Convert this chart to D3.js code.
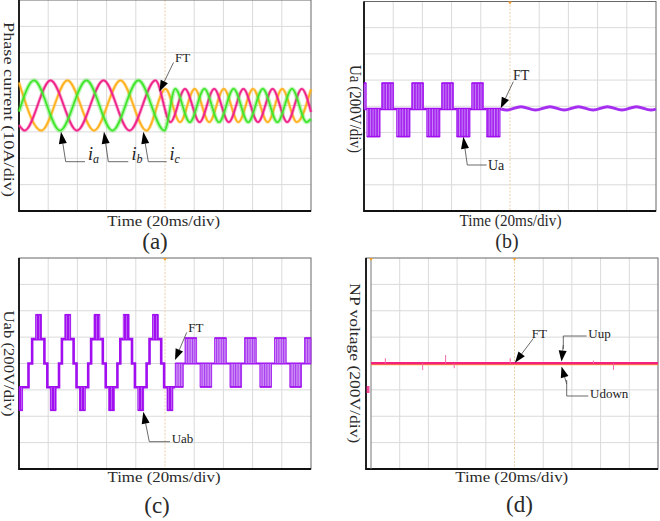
<!DOCTYPE html>
<html>
<head>
<meta charset="utf-8">
<script src="https://cdn.jsdelivr.net/npm/d3@7"></script>
<style>
body { margin: 0; background: #fff; }
svg { display: block; }
</style>
</head>
<body>
<svg id="fig" width="660" height="521"></svg>
<script>
// scope traces, read off the four screen shots
// time in ms (20ms/div, 10 div), current in A (10A/div), voltage in V (200V/div)
var gridTime = [20, 40, 60, 80, 100, 120, 140, 160, 180];
var gridAmp = [-30, -20, -10, 0, 10, 20, 30];
var gridVolt = [-600, -400, -200, 0, 200, 400, 600];

// (a) phase currents: peaks and troughs [t, A]
var iaPts = [[0,-2.3],[10.3,9.5],[28.1,-9.5],[46.2,9.5],[64,-9.5],[81.8,9.5],[99.6,-9.5],[107,6.3],[117,-6.3],[127,6.3],[137,-6.3],[147,6.3],[157,-6.3],[167,6.3],[177,-6.3],[187,6.3],[197,-6.3],[200,-5.1]];
var ibPts = [[0,-7.4],[3.8,-9.5],[21.6,9.5],[39.7,-9.5],[57.9,9.5],[75.7,-9.5],[93.5,9.5],[103.7,-6.3],[113.7,6.3],[123.7,-6.3],[133.7,6.3],[143.7,-6.3],[153.7,6.3],[163.7,-6.3],[173.7,6.3],[183.7,-6.3],[193.7,6.3],[200,-2.5]];
var icPts = [[0,8.7],[15.3,-9.5],[33.2,9.5],[51.4,-9.5],[69.5,9.5],[87.3,-9.5],[100.3,6.3],[110.3,-6.3],[120.3,6.3],[130.3,-6.3],[140.3,6.3],[150.3,-6.3],[160.3,6.3],[170.3,-6.3],[180.3,6.3],[190.3,-6.3],[200,6.2]];

// (b) Ua: [t0, t1, base level, switched level] in V, then ripple after FT
var uaSegs = [[0,1.5,-21,177],[1.5,2,-21,-21],[2,11,-21,-232],[11,12.1,-21,-21],[12.1,20.3,-21,177],[20.3,22.4,-21,-21],
  [22.4,31.5,-21,-232],[31.5,32.7,-21,-21],[32.7,40.8,-21,177],[40.8,43,-21,-21],[43,52,-21,-232],[52,53.2,-21,-21],
  [53.2,61.3,-21,177],[61.3,63.5,-21,-21],[63.5,72.6,-21,-232],[72.6,73.8,-21,-21],[73.8,81.8,-21,177],[81.8,84,-21,-21],
  [84,93.2,-21,-232],[93.2,94,-21,-21]];
var uaRipple = [[94,-21],[97.5,-29],[107.5,-3],[117.5,-29],[127.4,-3],[137.2,-29],[146.9,-3],[156.9,-29],[166.8,-3],[176.7,-29],[186.6,-3],[196.5,-29],[200,-22]];

// (c) Uab before FT (five levels) and after FT (three levels)
var uabPre = [[0,2.5,-180,-355],[2.5,6.5,-180,-180],[6.5,9,0,0],[9,11.4,185,185],
  [11.4,15.4,185,370],[15.4,17.4,185,185],[17.4,19.4,0,0],[19.4,21.4,-180,-180],[21.4,25.4,-180,-355],[25.4,27.4,-180,-180],[27.4,29.4,0,0],[29.4,31.4,185,185],
  [31.4,35.4,185,370],[35.4,37.4,185,185],[37.4,39.4,0,0],[39.4,41.4,-180,-180],[41.4,45.4,-180,-355],[45.4,47.4,-180,-180],[47.4,49.4,0,0],[49.4,51.4,185,185],
  [51.4,55.4,185,370],[55.4,57.4,185,185],[57.4,59.4,0,0],[59.4,61.4,-180,-180],[61.4,65.4,-180,-355],[65.4,67.4,-180,-180],[67.4,69.4,0,0],[69.4,71.4,185,185],
  [71.4,75.4,185,370],[75.4,77.4,185,185],[77.4,79.4,0,0],[79.4,81.4,-180,-180],[81.4,85.4,-180,-355],[85.4,87.4,-180,-180],[87.4,89.4,0,0],[89.4,91.4,185,185],
  [91.4,95.4,185,370],[95.4,97.4,185,185],[97.4,99.4,0,0],[99.4,101.4,-180,-180],[101.4,105.4,-180,-355],[105.4,107,-180,-180]];
var uabPost = [[107,112.5,0,-178],[112.5,113.7,0,0],[113.7,121.7,0,193],[121.7,124,0,0],[124,132,0,-178],[132,134,0,0],
  [134,142,0,193],[142,144.5,0,0],[144.5,152.5,0,-178],[152.5,154.5,0,0],[154.5,162.5,0,193],[162.5,165,0,0],
  [165,173,0,-178],[173,175,0,0],[175,183,0,193],[183,185.5,0,0],[185.5,193.5,0,-178],[193.5,195.5,0,0],[195.5,200,0,193]];

// (d) neutral point voltages and the few visible spikes
var npTime = [0, 200];
var uupLevel = [2, 2];
var udownLevel = [-2, -2];
var spikeT = [10, 36, 52, 58, 97, 155, 169];
var spikeV = [40, -50, 64, -36, 40, 22, -48];

var FONT = "Liberation Serif, 'Times New Roman', serif";
var PURPLE = "#a10ff0";

var svg = d3.select("#fig");
var defs = svg.append("defs");

// thin see-through switching lines laid over the solid PWM blocks
function stripes(id, w, color, lw, op) {
    defs.append("pattern").attr("id", id)
        .attr("patternUnits", "userSpaceOnUse")
        .attr("width", w).attr("height", 10)
        .append("rect").attr("x", 0).attr("y", 0)
        .attr("width", lw).attr("height", 10)
        .attr("fill", color).attr("fill-opacity", op);
}
stripes("strDark", 3, "#e2c2fa", 0.6, 0.7);
stripes("strB", 2.7, "#e0bdf8", 0.7, 0.8);
stripes("strLight", 2.4, "#a02cf0", 1, 0.9);

// panel scales
var pa = { x: d3.scaleLinear().domain([0, 200]).range([19, 311]), y: d3.scaleLinear().domain([-40, 40]).range([211, 0]) };
var pb = { x: d3.scaleLinear().domain([0, 200]).range([364, 656]), y: d3.scaleLinear().domain([-800, 800]).range([211, 1.5]) };
var pc = { x: d3.scaleLinear().domain([0, 200]).range([19, 311]), y: d3.scaleLinear().domain([-800, 800]).range([469, 258]) };
var pd = { x: d3.scaleLinear().domain([0, 200]).range([371, 658]), y: d3.scaleLinear().domain([-800, 800]).range([469, 258]) };

function frame(p, yTicks, leftX) {
    var g = svg.append("g");
    var x0 = p.x.range()[0], x1 = p.x.range()[1];
    var yb = p.y.range()[0], yt = p.y.range()[1];
    g.selectAll("line.h").data(yTicks).enter().append("line")
        .attr("x1", x0).attr("x2", x1)
        .attr("y1", function (d) { return p.y(d); }).attr("y2", function (d) { return p.y(d); })
        .attr("stroke", "#dadada").attr("stroke-width", 1);
    g.selectAll("line.v").data(gridTime).enter().append("line")
        .attr("x1", function (d) { return p.x(d); }).attr("x2", function (d) { return p.x(d); })
        .attr("y1", yt).attr("y2", yb)
        .attr("stroke", function (d) { return d === 100 ? "#ecd0a8" : "#dadada"; })
        .attr("stroke-dasharray", function (d) { return d === 100 ? "2,1.5" : null; })
        .attr("stroke-width", 1);
    var lx = leftX === undefined ? x0 : leftX;
    g.append("rect").attr("x", lx).attr("y", yt).attr("width", x1 - lx).attr("height", yb - yt)
        .attr("fill", "none").attr("stroke", "#666").attr("stroke-width", 1);
    g.append("path").attr("d", "M" + lx + "," + yt + "V" + yb + "H" + x1)
        .attr("fill", "none").attr("stroke", "#111").attr("stroke-width", 1.8);
    return g;
}

frame(pa, gridAmp);
frame(pb, gridVolt);
frame(pc, gridVolt);
var gd = frame(pd, gridVolt, 366);
gd.append("line").attr("x1", 371).attr("x2", 371).attr("y1", 258).attr("y2", 469)
    .attr("stroke", "#777").attr("stroke-width", 1);

// trigger marks on top edge
[[pb.x(100), 1.5], [pc.x(100), 258], [pd.x(100), 258], [371, 258]].forEach(function (m) {
    svg.append("path").attr("d", "M" + (m[0] - 2) + "," + m[1] + "h4l-2,3z").attr("fill", "#f0a030");
});

// ---- (a) currents ----
function current(pts, color, noisy) {
    var line = d3.line().x(function (d) { return pa.x(d[0]); }).y(function (d) { return pa.y(d[1]); })
        .curve(d3.curveMonotoneX);
    svg.append("path").attr("d", line(pts)).attr("fill", "none")
        .attr("stroke", color).attr("stroke-width", noisy ? 4.5 : 3.5).attr("stroke-opacity", 0.35);
    svg.append("path").attr("d", line(pts)).attr("fill", "none")
        .attr("stroke", color).attr("stroke-width", 1.8);
}
current(icPts, "#ffb21f", false);
current(ibPts, "#f0238a", false);
current(iaPts, "#3fe62c", true);

// ---- PWM staircase drawing for (b) and (c) ----
function pwm(p, segs, base, strId, width) {
    var g = svg.append("g");
    var pts = segs.map(function (s) { return [s[0], s[2]]; });
    var last = segs[segs.length - 1];
    pts.push([last[1], last[2]]);
    var line = d3.line().x(function (d) { return p.x(d[0]); }).y(function (d) { return p.y(d[1]); })
        .curve(d3.curveStepAfter);
    g.append("path").attr("d", line(pts)).attr("fill", "none")
        .attr("stroke", PURPLE).attr("stroke-width", width);
    var blocks = segs.filter(function (s) { return s[2] !== s[3]; });
    function box(sel) {
        return sel.attr("x", function (s) { return p.x(s[0]); })
            .attr("width", function (s) { return p.x(s[1]) - p.x(s[0]); })
            .attr("y", function (s) { return Math.min(p.y(s[2]), p.y(s[3])); })
            .attr("height", function (s) { return Math.abs(p.y(s[2]) - p.y(s[3])); });
    }
    box(g.selectAll("rect.blk").data(blocks).enter().append("rect"))
        .attr("fill", base).attr("stroke", PURPLE).attr("stroke-width", 0.8);
    box(g.selectAll("rect.str").data(blocks).enter().append("rect"))
        .attr("fill", "url(#" + strId + ")");
    g.selectAll("line.top").data(blocks).enter().append("line")
        .attr("x1", function (s) { return p.x(s[0]); }).attr("x2", function (s) { return p.x(s[1]); })
        .attr("y1", function (s) { return p.y(s[3]); }).attr("y2", function (s) { return p.y(s[3]); })
        .attr("stroke", PURPLE).attr("stroke-width", 1.6);
}

pwm(pb, uaSegs, "#a628f0", "strB", 2.4);
svg.append("path")
    .attr("d", d3.line().x(function (d) { return pb.x(d[0]); }).y(function (d) { return pb.y(d[1]); })
        .curve(d3.curveMonotoneX)(uaRipple))
    .attr("fill", "none").attr("stroke", "#a52ef0").attr("stroke-width", 3);

pwm(pc, uabPre, "#a10ff0", "strDark", 2.6);
pwm(pc, uabPost, "#cf90f4", "strLight", 2);

// ---- (d) NP voltage ----
var npLine = d3.line().x(function (d) { return pd.x(d[0]); }).y(function (d) { return pd.y(d[1]); });
svg.append("path").attr("d", npLine(npTime.map(function (t, i) { return [t, udownLevel[i]]; })))
    .attr("stroke", "#ffb52a").attr("stroke-width", 3.2).attr("fill", "none");
svg.append("path").attr("d", npLine(npTime.map(function (t, i) { return [t, uupLevel[i]]; })))
    .attr("stroke", "#f2207f").attr("stroke-width", 2.6).attr("fill", "none");
svg.selectAll("line.spike").data(spikeT).enter().append("line")
    .attr("x1", function (d) { return pd.x(d); }).attr("x2", function (d) { return pd.x(d); })
    .attr("y1", pd.y(0)).attr("y2", function (d, i) { return pd.y(spikeV[i]); })
    .attr("stroke", "#f06aa8").attr("stroke-width", 1);
// channel marker
svg.append("path").attr("d", "M366.5,386h3v7h-3z").attr("fill", "#f2207f").attr("opacity", 0.8);

// ---- text ----
function label(x, y, txt, size, len, rot, family) {
    var t = svg.append("text")
        .attr("transform", "translate(" + x + "," + y + ")" + (rot ? " rotate(90)" : ""))
        .attr("text-anchor", "middle")
        .attr("font-family", family || FONT)
        .attr("font-size", size)
        .attr("fill", "#2a2a2a")
        .text(txt);
    if (len) t.attr("textLength", len).attr("lengthAdjust", "spacingAndGlyphs");
    return t;
}

label(3.5, 109.5, "Phase current (10A/div)", 14.5, 175, true);
label(163.7, 225.5, "Time (20ms/div)", 14.5, 112.7);
label(155, 249, "(a)", 23);

label(349.5, 109, "Ua (200V/div)", 16, 88, true);
label(510.5, 225.5, "Time (20ms/div)", 16, 102);
label(507, 248, "(b)", 20);

label(3.5, 363.5, "Uab (200V/div)", 14.5, 106, true);
label(164, 481.5, "Time (20ms/div)", 14.5, 113);
label(157, 513, "(c)", 23);

label(349.5, 363.3, "NP voltage (200V/div)", 14.5, 160, true);
label(511.7, 481.5, "Time (20ms/div)", 14.5, 113);
label(519.5, 512, "(d)", 23);

// ---- annotations ----
function arrow(x1, y1, x2, y2, len, w) {
    var dx = x2 - x1, dy = y2 - y1, n = Math.sqrt(dx * dx + dy * dy);
    var ux = dx / n, uy = dy / n;
    var bx = x2 - ux * len, by = y2 - uy * len;
    svg.append("line").attr("x1", x1).attr("y1", y1).attr("x2", bx).attr("y2", by)
        .attr("stroke", "#444").attr("stroke-width", 0.8);
    svg.append("path")
        .attr("d", "M" + x2 + "," + y2 + "L" + (bx - uy * w / 2) + "," + (by + ux * w / 2) +
            "L" + (bx + uy * w / 2) + "," + (by - ux * w / 2) + "Z")
        .attr("fill", "#000");
}
function leader(pts) {
    svg.append("path").attr("d", d3.line()(pts)).attr("fill", "none")
        .attr("stroke", "#444").attr("stroke-width", 0.8);
}
function note(x, y, txt, size) {
    svg.append("text").attr("x", x).attr("y", y).attr("font-family", FONT)
        .attr("font-size", size).attr("fill", "#222").text(txt);
}
function phaseTag(x, y, sub) {
    var t = svg.append("text").attr("x", x).attr("y", y).attr("font-family", FONT)
        .attr("font-style", "italic").attr("fill", "#222");
    t.append("tspan").attr("font-size", 18).text("i");
    t.append("tspan").attr("font-size", 12).attr("dy", 3).text(sub);
}

// (a)
note(175, 61.5, "FT", 13);
arrow(173.5, 62.5, 159.5, 91.5, 11, 8);
arrow(65.7, 161.7, 61, 131.7, 12, 8);
leader([[65.7, 161.7], [85, 161.7]]);
phaseTag(88, 160, "a");
arrow(108.3, 161.7, 104, 131.7, 12, 8);
leader([[108.3, 161.7], [128.3, 161.7]]);
phaseTag(131.5, 160, "b");
arrow(148.3, 161.7, 143.3, 131.7, 12, 8);
leader([[148.3, 161.7], [166.7, 161.7]]);
phaseTag(169.5, 160, "c");

// (b)
note(513, 79.5, "FT", 14);
arrow(513.3, 81.7, 500.7, 108.3, 11, 8);
arrow(467.3, 165, 463.3, 136.7, 12, 8);
leader([[467.3, 165], [486.7, 165]]);
note(488, 169.5, "Ua", 14);

// (c)
note(188.3, 331.5, "FT", 13);
arrow(186.7, 332.5, 175, 360, 11, 8);
arrow(149.3, 441.7, 143.3, 411.7, 12, 8);
leader([[149.3, 441.7], [170, 441.7]]);
note(171.7, 443, "Uab", 13);

// (d)
note(531.7, 338, "FT", 13);
arrow(533.3, 338.5, 515, 362.7, 11, 8);
leader([[586.7, 336], [563.3, 336], [563.3, 349]]);
arrow(563.3, 345, 561.5, 361.5, 11, 8);
note(588.3, 337.5, "Uup", 13);
leader([[588.3, 396], [566.7, 396], [566.7, 380]]);
arrow(566.7, 384, 561.5, 366.5, 11, 8);
note(590, 398, "Udown", 13);
</script>
</body>
</html>
